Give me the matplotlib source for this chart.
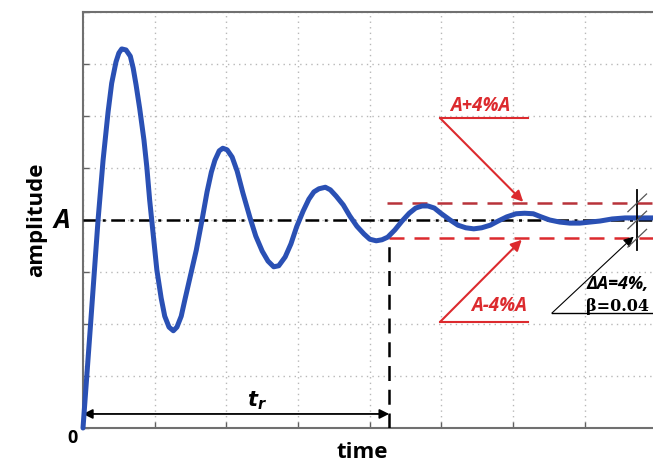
import matplotlib.pyplot as plt

# --- values (time in grid units, amplitude with A = 4) ---
time = [0.00, 0.10, 0.21, 0.28, 0.35, 0.40, 0.46, 0.50, 0.54, 0.60,
        0.66, 0.70, 0.74, 0.79, 0.85, 0.89, 0.93, 0.98, 1.03, 1.09,
        1.14, 1.20, 1.26, 1.31, 1.37, 1.42, 1.49, 1.58, 1.66, 1.73,
        1.79, 1.84, 1.90, 1.95, 2.01, 2.08, 2.15, 2.23, 2.33, 2.41,
        2.50, 2.58, 2.66, 2.73, 2.82, 2.90, 2.98, 3.07, 3.15, 3.22,
        3.29, 3.38, 3.45, 3.53, 3.63, 3.72, 3.82, 3.92, 4.00, 4.09,
        4.17, 4.25, 4.35, 4.45, 4.55, 4.64, 4.73, 4.81, 4.90, 4.99,
        5.12, 5.23, 5.34, 5.45, 5.56, 5.68, 5.79, 5.91, 6.04, 6.16,
        6.28, 6.39, 6.51, 6.65, 6.79, 6.93, 7.07, 7.21, 7.38, 7.56,
        7.77, 7.95]
amplitude = [0.00, 1.89, 4.00, 5.15, 6.08, 6.63, 7.04, 7.21, 7.29, 7.27,
             7.15, 6.92, 6.60, 6.15, 5.54, 5.02, 4.38, 3.71, 3.04, 2.50,
             2.15, 1.94, 1.87, 1.94, 2.15, 2.46, 2.88, 3.42, 4.00, 4.54,
             4.92, 5.15, 5.33, 5.38, 5.35, 5.21, 4.94, 4.52, 4.04, 3.69,
             3.40, 3.21, 3.10, 3.12, 3.29, 3.54, 3.87, 4.17, 4.40, 4.54,
             4.60, 4.63, 4.58, 4.46, 4.29, 4.08, 3.88, 3.73, 3.63, 3.60,
             3.62, 3.67, 3.81, 3.98, 4.13, 4.23, 4.27, 4.27, 4.23, 4.13,
             4.00, 3.90, 3.85, 3.83, 3.85, 3.90, 3.98, 4.06, 4.12, 4.13,
             4.12, 4.06, 4.00, 3.96, 3.94, 3.94, 3.96, 3.98, 4.02, 4.04,
             4.04, 4.04]
A = 4.0
band_up = 0.33
band_lo = 0.35
t_settle = 4.27
t_max = 7.95
y_max = 8.0

blue = '#2a50b4'
red = '#dc2a2e'
dark_red = '#b8333a'

fig = plt.figure(figsize=(6.53, 4.62), dpi=100)
ax = fig.add_axes([83 / 653, 34 / 462, 570 / 653, 416 / 462])
ax.set_xlim(0, t_max)
ax.set_ylim(0, y_max)

# grid and frame
ax.set_xticks(range(0, 8))
ax.set_yticks(range(0, 9))
ax.tick_params(direction='in', length=4, width=1, color='#606060',
               labelbottom=False, labelleft=False)
ax.grid(True, color='#b8b8b8', linestyle=(0, (1, 3)), linewidth=1.0)
ax.spines['right'].set_visible(False)
for s in ['left', 'bottom', 'top']:
    ax.spines[s].set_color('#707070')
    ax.spines[s].set_linewidth(1.5)
ax.set_axisbelow(True)

# reference level A (dash-dot)
ax.axhline(A, color='black', linewidth=1.8, dashes=(5.5, 2.2, 1.2, 2.2), zorder=3)

# tolerance band
ax.plot([t_settle - 0.03, t_max], [A + band_up] * 2, color=dark_red, linewidth=1.8,
        dashes=(6, 4), zorder=3)
ax.plot([t_settle, t_max], [A - band_lo] * 2, color=red, linewidth=1.8,
        dashes=(6, 4), zorder=3)

# response curve
ax.plot(time, amplitude, color=blue, linewidth=3.6, solid_joinstyle='round',
        solid_capstyle='round', zorder=4, clip_on=False)

# settling time marker
ax.plot([t_settle, t_settle], [0, A - band_lo], color='black', linewidth=1.8,
        dashes=(6, 3.5), zorder=3)
ax.annotate('', xy=(t_settle, 0.27), xytext=(0, 0.27),
            arrowprops=dict(arrowstyle='<|-|>', color='black', lw=1.3,
                            mutation_scale=14, shrinkA=0, shrinkB=0))
ax.text(2.43, 0.52, r'$\mathbfit{t_r}$', fontsize=15, ha='center', va='center')

# labels for the band
ax.plot([4.98, 6.21], [5.96, 5.96], color=red, linewidth=1.5)
ax.annotate('', xy=(6.14, A + band_up + 0.02), xytext=(4.98, 5.96),
            arrowprops=dict(arrowstyle='-|>', color=red, lw=1.5,
                            mutation_scale=16, shrinkA=0, shrinkB=0))
ax.text(5.54, 6.19, 'A+4%A', color=red, fontsize=13.5, fontweight='bold',
        fontstyle='italic', ha='center', va='center', family='Open Sans')

ax.plot([4.98, 6.21], [2.04, 2.04], color=red, linewidth=1.5)
ax.annotate('', xy=(6.12, A - band_lo - 0.03), xytext=(4.98, 2.04),
            arrowprops=dict(arrowstyle='-|>', color=red, lw=1.5,
                            mutation_scale=16, shrinkA=0, shrinkB=0))
ax.text(5.80, 2.35, 'A-4%A', color=red, fontsize=13.5, fontweight='bold',
        fontstyle='italic', ha='center', va='center', family='Open Sans')

# dimension mark for delta A
t_dim = 7.73
ax.plot([t_dim, t_dim], [3.42, 4.58], color='black', linewidth=1.3, zorder=5)
for lev in [A + band_up, A, A - band_lo]:
    ax.plot([t_dim - 0.13, t_dim + 0.13], [lev - 0.17, lev + 0.17],
            color='#555555', linewidth=0.9, zorder=5)
ax.plot([6.54, t_max], [2.21, 2.21], color='black', linewidth=1.0, clip_on=False)
ax.annotate('', xy=(7.68, 3.68), xytext=(6.54, 2.21),
            arrowprops=dict(arrowstyle='-|>', color='black', lw=0.8,
                            mutation_scale=15, shrinkA=0, shrinkB=0))
ax.text(7.02, 2.76, 'ΔA=4%,', fontsize=13, fontweight='bold', fontstyle='italic',
        ha='left', va='center', family='Open Sans')
ax.text(7.02, 2.33, 'β=0.04', fontsize=11.5, fontweight='bold',
        ha='left', va='center', family='DejaVu Serif')

# axis labels drawn as figure text
fig.text(37 / 653, 1 - 220 / 462, 'amplitude', rotation=90, fontsize=16,
         fontweight='bold', ha='center', va='center', family='Open Sans')
fig.text(62 / 653, 1 - 220 / 462, 'A', fontsize=19, fontweight='bold',
         fontstyle='italic', ha='center', va='center', family='Open Sans')
fig.text(362 / 653, 1 - 452 / 462, 'time', fontsize=16, fontweight='bold',
         ha='center', va='center', family='Open Sans')
fig.text(72 / 653, 1 - 438 / 462, '0', fontsize=13, fontweight='bold',
         ha='center', va='center', family='Open Sans')

fig.savefig('out.png', dpi=100)
